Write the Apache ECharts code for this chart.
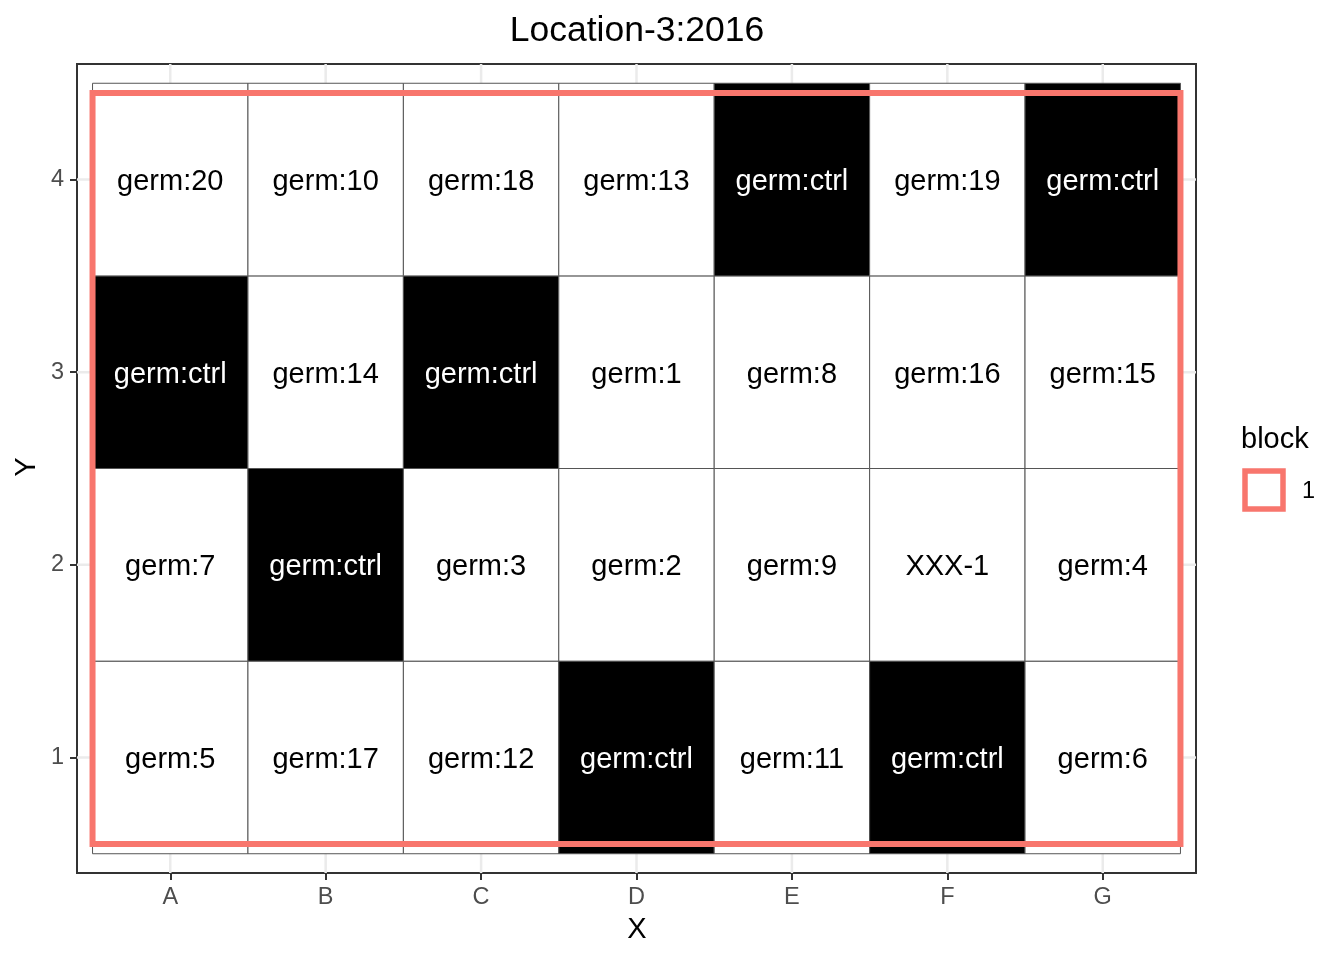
<!DOCTYPE html>
<html>
<head>
<meta charset="utf-8">
<script src="https://cdn.jsdelivr.net/npm/echarts@6/dist/echarts.min.js"></script>
<style>html,body{margin:0;padding:0;background:#fff}#c{width:1344px;height:960px}</style>
</head>
<body>
<div id="c"></div>
<script>
const xCats = ['A','B','C','D','E','F','G'];
const yTicks = [1, 2, 3, 4];
const row1 = ['germ:5','germ:17','germ:12','germ:ctrl','germ:11','germ:ctrl','germ:6'];
const row2 = ['germ:7','germ:ctrl','germ:3','germ:2','germ:9','XXX-1','germ:4'];
const row3 = ['germ:ctrl','germ:14','germ:ctrl','germ:1','germ:8','germ:16','germ:15'];
const row4 = ['germ:20','germ:10','germ:18','germ:13','germ:ctrl','germ:19','germ:ctrl'];
const blockNames = ['1'];
const blockBounds = [[0.5, 0.55, 7.5, 4.45]]; // xmin, ymin, xmax, ymax
const titleText = 'Location-3:2016';

const rows = [row1, row2, row3, row4];
const tiles = [];
rows.forEach((r, yi) => r.forEach((lab, xi) => tiles.push([xi + 1, yi + 1, lab])));

const FONT = '"Liberation Sans", Arial, Helvetica, sans-serif';
const xCenters = xCats.map((_, i) => i + 1);

const gridLines = [];
xCenters.forEach(v => gridLines.push([0, v]));
yTicks.forEach(v => gridLines.push([1, v]));

const chart = echarts.init(document.getElementById('c'), null, {renderer: 'canvas'});
chart.setOption({
  animation: false,
  backgroundColor: '#ffffff',
  grid: {
    left: 77, top: 64, width: 1119, height: 809,
    show: true, borderColor: '#333333', borderWidth: 2, backgroundColor: '#fff'
  },
  xAxis: {
    type: 'value', min: 0.4, max: 7.6,
    axisLine: {show: false},
    splitLine: {show: false},
    axisTick: {show: true, customValues: xCenters, length: 7, lineStyle: {color: '#333', width: 2}},
    axisLabel: {
      customValues: xCenters, margin: 13, color: '#4D4D4D', fontSize: 23.5, fontFamily: FONT,
      formatter: v => xCats[Math.round(v) - 1] || ''
    }
  },
  yAxis: {
    type: 'value', min: 0.4, max: 4.6,
    axisLine: {show: false},
    splitLine: {show: false},
    axisTick: {show: true, customValues: yTicks, length: 7, lineStyle: {color: '#333', width: 2}},
    axisLabel: {
      customValues: yTicks, margin: 13, color: '#4D4D4D', fontSize: 23.5, fontFamily: FONT,
      padding: [4, 0, 0, 0],
      formatter: v => String(Math.round(v))
    }
  },
  series: [
    {
      type: 'custom', silent: true, z: 1,
      data: gridLines,
      renderItem: function (params, api) {
        const kind = api.value(0), v = api.value(1);
        let p1, p2;
        if (kind === 0) { p1 = api.coord([v, 0.4]); p2 = api.coord([v, 4.6]); }
        else { p1 = api.coord([0.4, v]); p2 = api.coord([7.6, v]); }
        return {type: 'line', shape: {x1: p1[0], y1: p1[1], x2: p2[0], y2: p2[1]},
          style: {stroke: '#EBEBEB', lineWidth: 2.5}};
      }
    },
    {
      type: 'custom', silent: true, z: 2,
      data: tiles,
      renderItem: function (params, api) {
        const x = api.value(0), y = api.value(1);
        const lab = tiles[params.dataIndex][2];
        const ctrl = lab === 'germ:ctrl';
        const p1 = api.coord([x - 0.5, y + 0.5]);
        const p2 = api.coord([x + 0.5, y - 0.5]);
        return {type: 'group', children: [
          {type: 'rect', shape: {x: p1[0], y: p1[1], width: p2[0] - p1[0], height: p2[1] - p1[1]},
            style: {fill: ctrl ? '#000' : '#fff', stroke: '#555', lineWidth: 1}},
          {type: 'text', style: {text: lab, x: (p1[0] + p2[0]) / 2, y: (p1[1] + p2[1]) / 2 + 2.5,
            align: 'center', verticalAlign: 'middle', fill: ctrl ? '#fff' : '#000',
            font: '29px ' + FONT}}
        ]};
      }
    },
    {
      type: 'custom', silent: true, z: 3, name: blockNames[0],
      data: blockBounds,
      renderItem: function (params, api) {
        const a = api.coord([api.value(0), api.value(3)]);
        const b = api.coord([api.value(2), api.value(1)]);
        return {type: 'rect', shape: {x: a[0], y: a[1], width: b[0] - a[0], height: b[1] - a[1]},
          style: {fill: null, stroke: '#F8766D', lineWidth: 6}};
      }
    }
  ],
  graphic: [
    {type: 'text', x: 637, y: 31, style: {text: titleText, align: 'center', verticalAlign: 'middle', fill: '#000', font: '35.5px ' + FONT}},
    {type: 'text', x: 637, y: 930, style: {text: 'X', align: 'center', verticalAlign: 'middle', fill: '#000', font: '29px ' + FONT}},
    {type: 'text', x: 27, y: 467, rotation: Math.PI / 2, style: {text: 'Y', align: 'center', verticalAlign: 'middle', fill: '#000', font: '29px ' + FONT}},
    {type: 'text', x: 1241, y: 440, style: {text: 'block', align: 'left', verticalAlign: 'middle', fill: '#000', font: '29px ' + FONT}},
    {type: 'rect', shape: {x: 1245, y: 471, width: 38, height: 38}, style: {fill: '#fff', stroke: '#F8766D', lineWidth: 5.5}},
    {type: 'text', x: 1302, y: 492, style: {text: blockNames[0], align: 'left', verticalAlign: 'middle', fill: '#000', font: '23.5px ' + FONT}}
  ]
});
</script>
</body>
</html>
